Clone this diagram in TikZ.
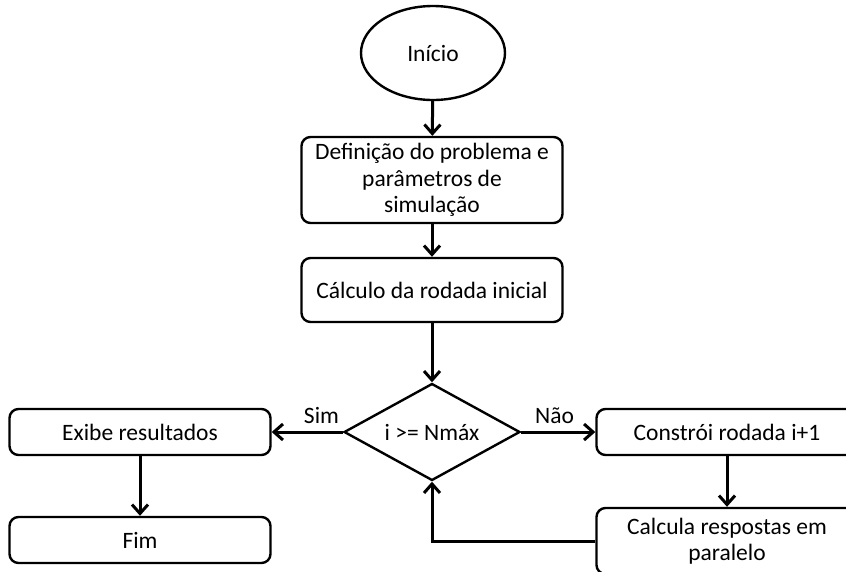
\documentclass[tikz,border=0pt]{standalone}
\usepackage{fontspec}
\setmainfont{Carlito}
\usetikzlibrary{shapes.geometric,arrows.meta}

\begin{document}
\begin{tikzpicture}[x=1pt,y=-1pt,line width=2.4pt,
    font=\fontsize{23.5}{26.5}\selectfont,
    box/.style={draw,rounded corners=9pt,minimum width=261pt,align=center,inner sep=1pt},
    flow/.style={line width=3pt,-{Straight Barb[length=9pt,width=16pt,line width=3pt]}}]
    \useasboundingbox (0,0) rectangle (846,571);
    \node[ellipse,draw,minimum width=144pt,minimum height=94pt] at (433,53) (inicio) {Início};
    \node[box,minimum height=86pt] at (432,180) (def) {Definição do problema e\\parâmetros de\\simulação};
    \node[box,minimum height=64pt] at (432,290) (calc) {Cálculo da rodada inicial};
    \node[diamond,draw,shape aspect=1.8,minimum width=176pt,minimum height=97pt,inner sep=0pt] at (432,432) (dec) {i >= Nmáx};
    \node[box,minimum height=46pt] at (140,432) (exibe) {Exibe resultados};
    \node[box,minimum height=46pt] at (140,540) (fim) {Fim};
    \node[box,minimum height=46pt] at (727,432) (constroi) {Constrói rodada i+1};
    \node[box,minimum height=66pt] at (727,541) (calcula) {Calcula respostas em\\paralelo};
    \draw (inicio) edge[flow] (def);
    \draw (def) edge[flow] (calc);
    \draw (calc) edge[flow] (dec);
    \draw (dec) edge[flow] node[above=4pt,pos=0.3] {Sim} (exibe);
    \draw (dec) edge[flow] node[above=4pt,pos=0.45] {Não} (constroi);
    \draw (exibe) edge[flow] (fim);
    \draw (constroi) edge[flow] (calcula);
    \draw[flow] (calcula.west) -| (dec.south);
\end{tikzpicture}
\end{document}
